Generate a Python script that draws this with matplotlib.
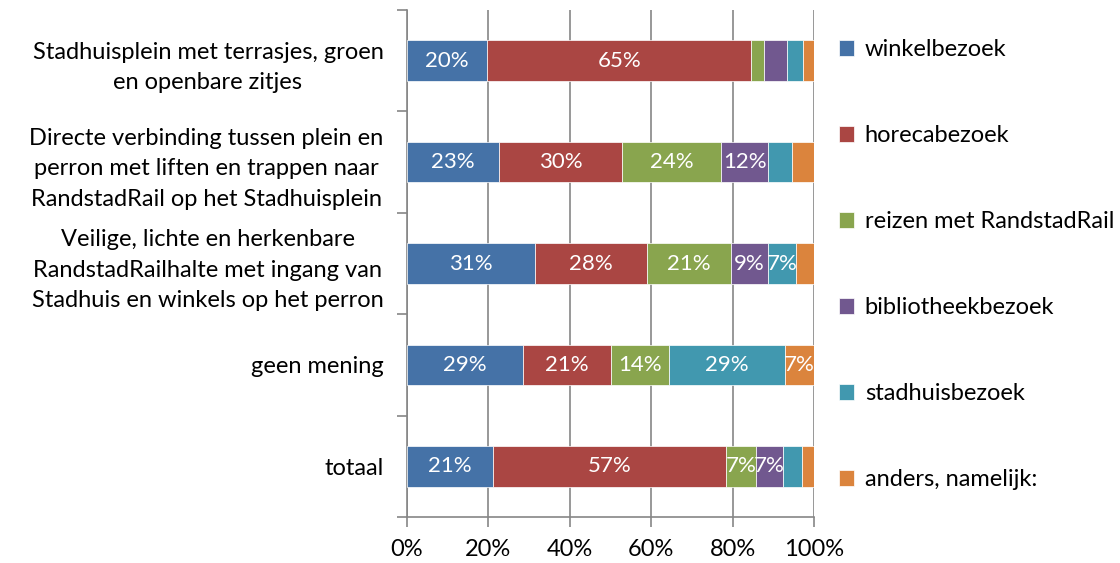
import numpy as np
import matplotlib.pyplot as plt
from matplotlib.ticker import PercentFormatter

plt.rcParams['font.family'] = ['Lato', 'DejaVu Sans']

categories = ['Stadhuisplein met terrasjes, groen\nen openbare zitjes',
              'Directe verbinding tussen plein en\nperron met liften en trappen naar\nRandstadRail op het Stadhuisplein',
              'Veilige, lichte en herkenbare\nRandstadRailhalte met ingang van\nStadhuis en winkels op het perron',
              'geen mening',
              'totaal']
series = ['winkelbezoek', 'horecabezoek', 'reizen met RandstadRail',
          'bibliotheekbezoek', 'stadhuisbezoek', 'anders, namelijk:']
winkel = [19.7, 22.7, 31.4, 28.6, 21.2]
horeca = [64.9, 30.1, 27.6, 21.4, 57.2]
reizen = [3.0, 24.4, 20.7, 14.3, 7.3]
biblio = [5.7, 11.5, 8.9, 0.0, 6.6]
stadhuis = [4.1, 5.8, 7.0, 28.6, 4.7]
anders = [2.6, 5.5, 4.4, 7.1, 3.0]
colors = ['#4572A7', '#AA4643', '#89A54E', '#71588F', '#4198AF', '#DB843D']

data = np.array([winkel, horeca, reizen, biblio, stadhuis, anders])

fig = plt.figure(figsize=(11.2, 5.63), dpi=100)
ax = fig.add_axes([0.3634, 0.0817, 0.3634, 0.9005])

fs = 17
y = np.arange(len(categories))
left = np.zeros(len(categories))
for i, name in enumerate(series):
    bars = ax.barh(y, data[i], left=left, height=0.4, color=colors[i],
                   edgecolor='white', linewidth=0.5, label=name, zorder=3)
    for b, v in zip(bars, data[i]):
        if v >= 6.2:
            ax.text(b.get_x() + b.get_width() / 2, b.get_y() + b.get_height() / 2,
                    '%d%%' % int(v + 0.5), ha='center', va='center',
                    color='white', fontsize=16, zorder=4)
    left += data[i]

ax.set_xlim(0, 100)
ax.set_ylim(len(categories) - 0.5, -0.5)
ax.xaxis.set_major_formatter(PercentFormatter(decimals=0))
ax.set_xticks(np.arange(0, 101, 20))
ax.set_yticks(y)
ax.set_yticklabels(categories, multialignment='center', linespacing=1.55)
ax.set_yticks(np.arange(-0.5, len(categories)), minor=True)
ax.tick_params(axis='y', which='major', length=0, pad=17, labelsize=fs)
ax.tick_params(axis='y', which='minor', length=7, color='#868686', width=1.2)
ax.tick_params(axis='x', length=7, color='#868686', width=1.2, labelsize=fs, pad=9)
ax.grid(axis='x', color='#868686', linewidth=1.2, zorder=0)
for s in ['top', 'right']:
    ax.spines[s].set_visible(False)
for s in ['left', 'bottom']:
    ax.spines[s].set_color('#868686')
    ax.spines[s].set_linewidth(1.2)

fig.legend(loc='upper left', bbox_to_anchor=(0.73, 0.968), frameon=False,
           fontsize=fs, handlelength=0.65, handleheight=0.65,
           labelspacing=2.75, handletextpad=0.45)

fig.savefig('out.png', dpi=100)
